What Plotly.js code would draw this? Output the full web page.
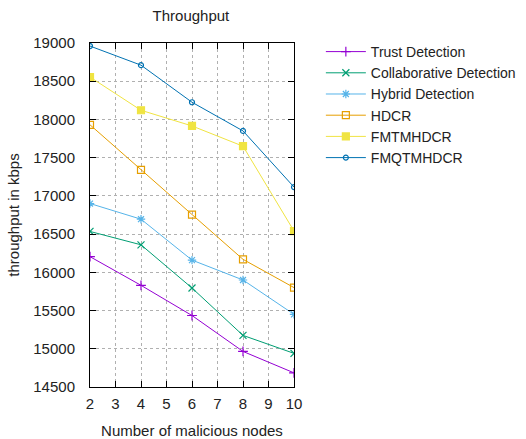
<!DOCTYPE html>
<html>
<head>
<meta charset="utf-8">
<script src="https://cdn.plot.ly/plotly-3.0.1.min.js"></script>
<style>html,body{margin:0;padding:0;background:#fff;}#chart{width:526px;height:439px;}</style>
</head>
<body>
<div id="chart"></div>
<script>
const nodes = [2, 4, 6, 8, 10];
const trustDetection = [16205, 15830, 15435, 14965, 14685];
const collaborativeDetection = [16535, 16360, 15795, 15175, 14940];
const hybridDetection = [16900, 16695, 16160, 15900, 15450];
const hdcr = [17930, 17340, 16755, 16170, 15800];
const fmtmhdcr = [18555, 18120, 17915, 17650, 16540];
const fmqtmhdcr = [18960, 18710, 18225, 17850, 17115];

const seriesNames = ["Trust Detection", "Collaborative Detection", "Hybrid Detection", "HDCR", "FMTMHDCR", "FMQTMHDCR"];
const seriesValues = [trustDetection, collaborativeDetection, hybridDetection, hdcr, fmtmhdcr, fmqtmhdcr];
const colors = ["#9400d3", "#009e73", "#56b4e9", "#e69f00", "#f0e442", "#0072b2"];
const symbols = ["cross-thin-open", "x-thin-open", "asterisk-open", "square-open", "square", "circle-open"];
const sizes = [7, 7, 7, 7, 7, 5];

const traces = seriesNames.map((n, i) => ({
  x: nodes, y: seriesValues[i], name: n, type: "scatter", mode: "lines+markers",
  line: {color: colors[i], width: 1},
  marker: {symbol: symbols[i], size: sizes[i], color: colors[i], line: {color: colors[i], width: 1.2}}
}));

const fam = "Liberation Sans, Arial, sans-serif";
const font = {family: fam, size: 15, color: "#222"};
const layout = {
  width: 526, height: 439,
  margin: {l: 90, r: 232, t: 43, b: 52},
  paper_bgcolor: "#fff", plot_bgcolor: "#fff",
  font: font,
  showlegend: true,
  title: {text: "Throughput", font: {family: fam, size: 15, color: "#222"}, x: 0.363, xanchor: "center", y: 0.965, yanchor: "middle", xref: "container", yref: "container"},
  xaxis: {
    range: [2, 10], dtick: 1, tick0: 2, ticks: "inside", ticklen: 6, tickcolor: "#000",
    showgrid: true, gridcolor: "#b0b0b0", griddash: "dot", gridwidth: 1,
    showline: true, linecolor: "#000", linewidth: 1, mirror: "ticks",
    zeroline: false, ticklabelstandoff: 3,
    title: {text: "Number of malicious nodes", font: font, standoff: 16}
  },
  yaxis: {
    range: [14500, 19000], dtick: 500, tickformat: "d", ticks: "inside", ticklen: 6, tickcolor: "#000",
    showgrid: true, gridcolor: "#b0b0b0", griddash: "dot", gridwidth: 1,
    showline: true, linecolor: "#000", linewidth: 1, mirror: "ticks",
    zeroline: false, ticklabelstandoff: 11,
    title: {text: "throughput in kbps", font: font, standoff: 10}
  },
  legend: {
    x: 0.61, y: 0.918, xref: "container", yref: "container", xanchor: "left", yanchor: "top",
    font: {family: fam, size: 14, color: "#222"}, bgcolor: "rgba(0,0,0,0)", borderwidth: 0, tracegroupgap: 0, itemwidth: 40
  }
};
Plotly.newPlot("chart", traces, layout, {displayModeBar: false, staticPlot: true});
</script>
</body>
</html>
